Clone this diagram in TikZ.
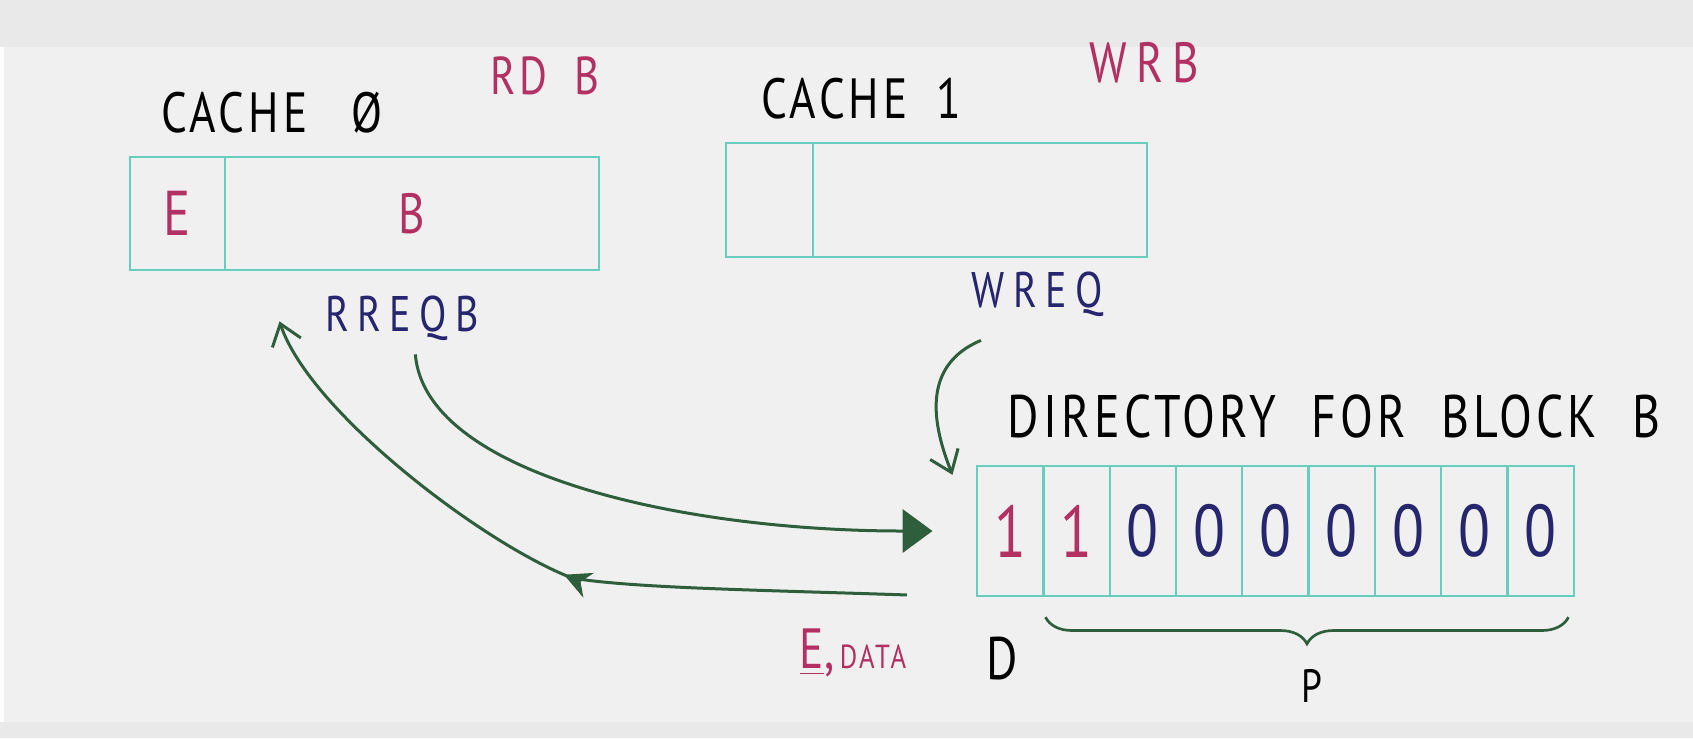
\documentclass[tikz,border=0pt]{standalone}
\usepackage{fontspec}
\setmainfont{PT Sans}
\newfontfamily\handfont[FakeStretch=0.8, LetterSpace=7]{PT Sans}
\usetikzlibrary{arrows.meta, positioning, decorations.pathreplacing, decorations.markings}

\definecolor{boxteal}{RGB}{105,205,190}
\definecolor{penred}{RGB}{178,48,98}
\definecolor{pennavy}{RGB}{38,38,110}
\definecolor{pengreen}{RGB}{46,94,60}
\definecolor{paper}{RGB}{240,240,240}

\newcommand{\penfont}[1]{\handfont\fontsize{#1}{#1}\selectfont}

\begin{document}
\begin{tikzpicture}[x=0.3pt, y=-0.3pt, >=Stealth,
    cell/.style={draw=boxteal, line width=0.7pt, inner sep=0pt},
    hand/.style={inner sep=0pt},
    flow/.style={draw=pengreen, line width=0.9pt}]
        \useasboundingbox (0,0) rectangle (1693,738);
        \fill[paper] (0,0) rectangle (1693,738);
        \fill[paper!97!black] (0,0) rectangle (1693,47);
        \fill[paper!97!black] (0,722) rectangle (1693,738);
        \fill[white] (0,47) rectangle (4,722);

        % cache 0
        \node[hand, font=\penfont{17}] (c0lbl) at (272,113) {CACHE\enspace\ Ø};
        \node[hand, font=\penfont{16}, text=penred] (rdb) at (545,76) {RD\enspace B};
        \node[cell, minimum width=28.5pt, minimum height=34pt,
            font=\penfont{19}, text=penred] (e0) at (177.5,213.5) {E};
        \node[cell, minimum width=112.2pt, minimum height=34pt,
            font=\penfont{17}, text=penred] (b0) at (412,213.5) {B};

        % cache 1
        \node[hand, font=\penfont{17}] (c1lbl) at (861,99) {CACHE\enspace 1};
        \node[hand, font=\penfont{17}, text=penred] (wrb) at (1144,63) {W\,R\,B};
        \node[cell, minimum width=26.1pt, minimum height=34.2pt] (e1) at (769.5,200) {};
        \node[cell, minimum width=100.2pt, minimum height=34.2pt] (b1) at (980,200) {};

        % requests
        \node[hand, font=\penfont{15}, text=pennavy] (rreq) at (402,318) {R\,R\,E\,Q\,B};
        \node[hand, font=\penfont{15}, text=pennavy] (wreq) at (1037,294) {W\,R\,E\,Q};

        % directory
        \node[hand, font=\penfont{18}] (dirlbl) at (1334,416)
            {DIRECTORY\hspace{10.5pt}FOR\hspace{10.5pt}BLOCK\hspace{10.5pt}B};
        \foreach \v [count=\i] in {1,1,0,0,0,0,0,0,0} {
            \ifnum\i<3 \def\ink{penred}\else\def\ink{pennavy}\fi
            \node[cell, minimum width=19.9pt, minimum height=39pt,
                font=\penfont{22}, text=\ink] (d\i) at ({977+66.33*(\i-0.5)},531) {\v};
        }
        \node[hand, font=\penfont{18}] (dlbl) at (1002,659) {D};
        \node[hand, font=\penfont{14}] (plbl) at (1312,686) {P};
        \node[hand, text=penred] (data) at (853,653)
            {{\penfont{17}\underline{E},}\,{\penfont{10}DATA}};

        % arrows
        \draw[flow, -{Triangle[length=9pt, width=13pt]}]
            ([shift={(4pt,-4pt)}]rreq.south) .. controls +(10,120) and +(-250,0)
            .. ([xshift=-13pt]d1.west);
        \draw[flow, -{Straight Barb[length=6pt, width=9pt]},
            postaction={decorate, decoration={markings,
                mark=at position 0.47 with {\arrow[pengreen]{Stealth[length=8pt, width=8pt]}}}}]
            ([yshift=10pt]data.north east) .. controls +(-150,-5) and +(60,10)
            .. (572,578) .. controls +(-90,-35) and +(30,90)
            .. ([shift={(16pt,-15pt)}]e0.south east);
        \draw[flow, -{Straight Barb[length=6pt, width=9pt]}]
            ([shift={(3pt,-7pt)}]wreq.south west) .. controls +(-60,25) and +(-20,-50)
            .. ([shift={(-7pt,-3pt)}]d1.north west);

        \draw[pengreen, line width=0.8pt, decorate,
            decoration={brace, mirror, amplitude=8pt}]
            ([shift={(1pt,-6pt)}]d2.south west) -- ([shift={(-2pt,-6pt)}]d9.south east);
    \end{tikzpicture}
\end{document}
